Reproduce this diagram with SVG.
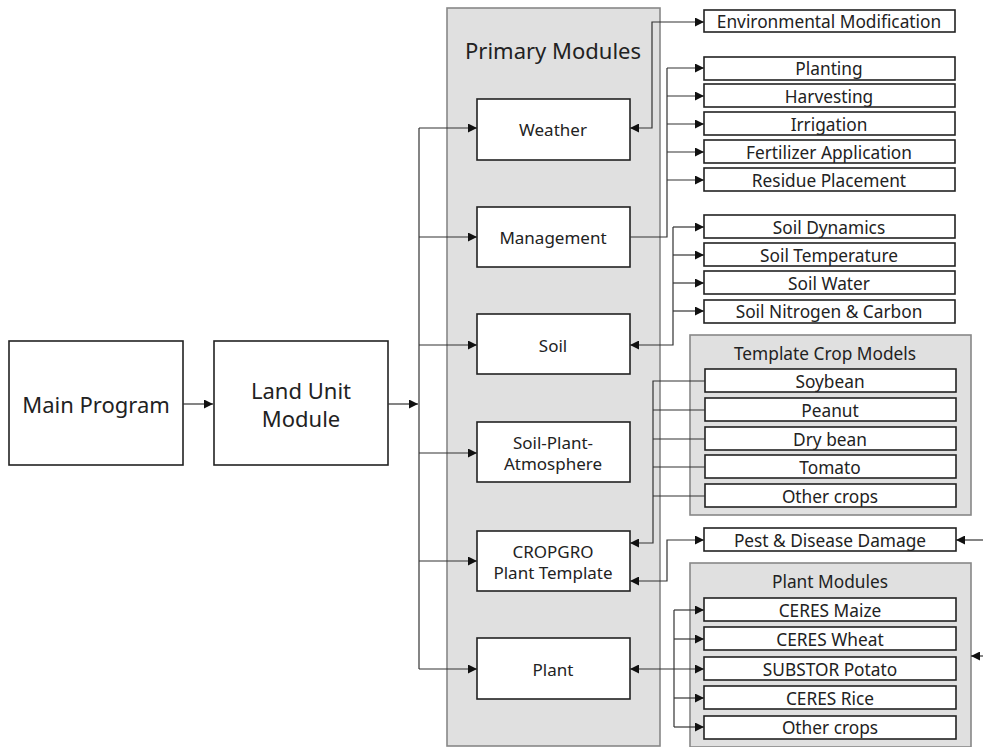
<svg xmlns="http://www.w3.org/2000/svg" width="983" height="747" viewBox="0 0 983 747">
<defs>
<marker id="ah" viewBox="0 0 10 10" refX="10" refY="5" markerWidth="10" markerHeight="9" markerUnits="userSpaceOnUse" orient="auto-start-reverse">
<path d="M0,0 L10,5 L0,10 z" fill="#111"/>
</marker>
<style>
.box{fill:#fff;stroke:#222;stroke-width:1.6}
.grp{fill:#e0e0e0;stroke:#888;stroke-width:1.6}
.t{font-family:"Noto Sans","Open Sans",sans-serif;fill:#222;text-anchor:middle;dominant-baseline:central}
.s{font-size:17.3px}
.m{font-size:17px}
.l{font-size:22px}
.c{fill:none;stroke:#333;stroke-width:1.2}
</style>
</defs>
<rect width="983" height="747" fill="#fff"/>

<g id="primary-modules">
<rect class="grp" x="447" y="8" width="213" height="738"/>
<text class="t" x="553" y="50" style="font-size:22px">Primary Modules</text>
</g>
<g id="template-crop-models">
<rect class="grp" x="690" y="335" width="281" height="180"/>
<text class="t s" x="825" y="353">Template Crop Models</text>
</g>
<g id="plant-modules">
<rect class="grp" x="690" y="563" width="281" height="184"/>
<text class="t s" x="830" y="581">Plant Modules</text>
</g>

<g id="main-program"><rect class="box" x="9" y="341" width="174" height="124"/><text class="t l" x="96" y="404">Main Program</text></g>
<g id="land-unit"><rect class="box" x="214" y="341" width="174" height="124"/><text class="t l" x="301" y="390">Land Unit</text><text class="t l" x="301" y="418">Module</text></g>

<g id="weather"><rect class="box" x="477" y="99" width="153" height="61"/><text class="t m" x="553" y="129">Weather</text></g>
<g id="management"><rect class="box" x="477" y="207" width="153" height="60"/><text class="t m" x="553" y="237">Management</text></g>
<g id="soil"><rect class="box" x="477" y="314" width="153" height="60"/><text class="t m" x="553" y="345">Soil</text></g>
<g id="spa"><rect class="box" x="477" y="422" width="153" height="60"/><text class="t m" x="553" y="442">Soil-Plant-</text><text class="t m" x="553" y="463">Atmosphere</text></g>
<g id="cropgro"><rect class="box" x="477" y="531" width="153" height="60"/><text class="t m" x="553" y="551">CROPGRO</text><text class="t m" x="553" y="572">Plant Template</text></g>
<g id="plant"><rect class="box" x="477" y="638" width="153" height="61"/><text class="t m" x="553" y="669">Plant</text></g>

<g id="env-mod"><rect class="box" x="704" y="10" width="251" height="22"/><text class="t s" x="829" y="21">Environmental Modification</text></g>
<g id="planting"><rect class="box" x="704" y="57" width="251" height="23"/><text class="t s" x="829" y="68">Planting</text></g>
<g id="harvesting"><rect class="box" x="704" y="84" width="251" height="23"/><text class="t s" x="829" y="96">Harvesting</text></g>
<g id="irrigation"><rect class="box" x="704" y="112" width="251" height="23"/><text class="t s" x="829" y="124">Irrigation</text></g>
<g id="fertilizer"><rect class="box" x="704" y="140" width="251" height="23"/><text class="t s" x="829" y="152">Fertilizer Application</text></g>
<g id="residue"><rect class="box" x="704" y="168" width="251" height="23"/><text class="t s" x="829" y="180">Residue Placement</text></g>

<g id="soil-dyn"><rect class="box" x="704" y="215" width="251" height="23"/><text class="t s" x="829" y="227">Soil Dynamics</text></g>
<g id="soil-temp"><rect class="box" x="704" y="243" width="251" height="23"/><text class="t s" x="829" y="255">Soil Temperature</text></g>
<g id="soil-water"><rect class="box" x="704" y="271" width="251" height="23"/><text class="t s" x="829" y="283">Soil Water</text></g>
<g id="soil-nc"><rect class="box" x="704" y="300" width="251" height="23"/><text class="t s" x="829" y="311">Soil Nitrogen &amp; Carbon</text></g>

<g id="soybean"><rect class="box" x="705" y="369" width="251" height="23"/><text class="t s" x="830" y="381">Soybean</text></g>
<g id="peanut"><rect class="box" x="705" y="398" width="251" height="23"/><text class="t s" x="830" y="410">Peanut</text></g>
<g id="drybean"><rect class="box" x="705" y="427" width="251" height="23"/><text class="t s" x="830" y="439">Dry bean</text></g>
<g id="tomato"><rect class="box" x="705" y="455" width="251" height="23"/><text class="t s" x="830" y="467">Tomato</text></g>
<g id="other-tpl"><rect class="box" x="705" y="484" width="251" height="23"/><text class="t s" x="830" y="496">Other crops</text></g>

<g id="pest"><rect class="box" x="704" y="528" width="252" height="23"/><text class="t s" x="830" y="540">Pest &amp; Disease Damage</text></g>

<g id="maize"><rect class="box" x="704" y="598" width="252" height="23"/><text class="t s" x="830" y="610">CERES Maize</text></g>
<g id="wheat"><rect class="box" x="704" y="627" width="252" height="23"/><text class="t s" x="830" y="639">CERES Wheat</text></g>
<g id="potato"><rect class="box" x="704" y="657" width="252" height="23"/><text class="t s" x="830" y="669">SUBSTOR Potato</text></g>
<g id="rice"><rect class="box" x="704" y="686" width="252" height="23"/><text class="t s" x="830" y="698">CERES Rice</text></g>
<g id="other-plant"><rect class="box" x="704" y="716" width="252" height="23"/><text class="t s" x="830" y="727">Other crops</text></g>

<g id="connectors">
<path class="c" d="M183,404 H213" marker-end="url(#ah)"/>
<path class="c" d="M388,404 H418" marker-end="url(#ah)"/>
<path class="c" d="M419,128 V669"/>
<path class="c" d="M419,128 H477" marker-end="url(#ah)"/>
<path class="c" d="M419,237 H477" marker-end="url(#ah)"/>
<path class="c" d="M419,345 H477" marker-end="url(#ah)"/>
<path class="c" d="M419,453 H477" marker-end="url(#ah)"/>
<path class="c" d="M419,561 H477" marker-end="url(#ah)"/>
<path class="c" d="M419,669 H477" marker-end="url(#ah)"/>

<path class="c" d="M704,22 H652 V128 H630" marker-start="url(#ah)" marker-end="url(#ah)"/>

<path class="c" d="M630,237 H667 V68"/>
<path class="c" d="M667,68 H704" marker-end="url(#ah)"/>
<path class="c" d="M667,96 H704" marker-end="url(#ah)"/>
<path class="c" d="M667,124 H704" marker-end="url(#ah)"/>
<path class="c" d="M667,152 H704" marker-end="url(#ah)"/>
<path class="c" d="M667,180 H704" marker-end="url(#ah)"/>

<path class="c" d="M673,227 V345 H630" marker-end="url(#ah)"/>
<path class="c" d="M673,227 H704" marker-end="url(#ah)"/>
<path class="c" d="M673,255 H704" marker-end="url(#ah)"/>
<path class="c" d="M673,283 H704" marker-end="url(#ah)"/>
<path class="c" d="M673,311 H704" marker-end="url(#ah)"/>

<path class="c" d="M705,381 H653 V543 H630" marker-end="url(#ah)"/>
<path class="c" d="M653,410 H705"/>
<path class="c" d="M653,439 H705"/>
<path class="c" d="M653,467 H705"/>
<path class="c" d="M653,496 H705"/>

<path class="c" d="M704,540 H667 V581 H630" marker-start="url(#ah)" marker-end="url(#ah)"/>
<path class="c" d="M983,540 H956" marker-end="url(#ah)"/>

<path class="c" d="M630,669 H704" marker-start="url(#ah)" marker-end="url(#ah)"/>
<path class="c" d="M674,610 V727"/>
<path class="c" d="M674,610 H704" marker-end="url(#ah)"/>
<path class="c" d="M674,639 H704" marker-end="url(#ah)"/>
<path class="c" d="M674,698 H704" marker-end="url(#ah)"/>
<path class="c" d="M674,727 H704" marker-end="url(#ah)"/>
<path class="c" d="M983,656 H971" marker-end="url(#ah)"/>
</g>
</svg>
